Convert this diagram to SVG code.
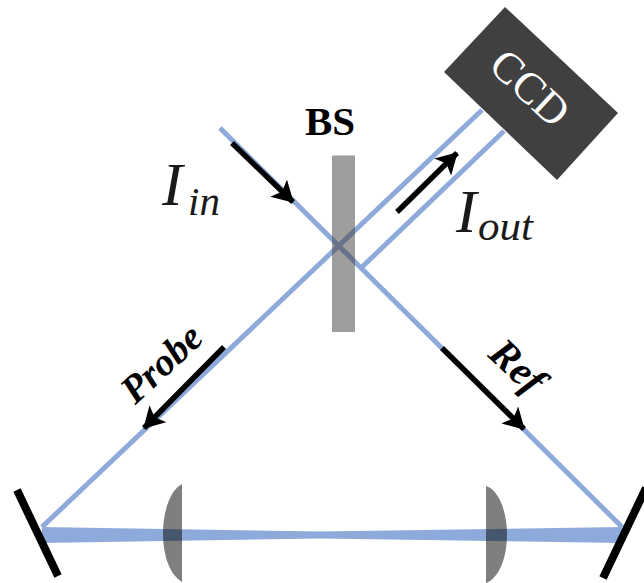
<svg xmlns="http://www.w3.org/2000/svg" width="644" height="583" viewBox="0 0 644 583">
<style>
.beam{stroke:#8eaadb;stroke-width:5;fill:none}
.arrow{stroke:#000;stroke-width:5.500;fill:none;marker-end:url(#head)}
.mirror{stroke:#000;stroke-width:8;fill:none}
.lens{fill:#000;fill-opacity:.5}
.t{font-family:"Liberation Serif","Times New Roman",serif}
.i{font-style:italic;fill:#1a1a1a}
.b{font-weight:bold;fill:#000}
</style>
<defs>
<marker id="head" markerUnits="userSpaceOnUse" markerWidth="26" markerHeight="26" refX="20" refY="12" orient="auto">
<path d="M0 0L21 12L0 24L5 12Z" fill="#000"/>
</marker>
</defs>
<rect width="644" height="583" fill="#fff"/>
<g id="connectors">
<path class="beam" d="M220 128L622 527"/>
<path class="beam" d="M482 110L42 527"/>
<path class="beam" d="M504 131L361 268"/>
<path d="M42 527L320 531.500L622 527L622 543L320 538.500L42 543Z" fill="#8eaadb"/>
<path class="arrow" d="M232 143L293 202"/>
<path class="arrow" d="M224 347L144 428"/>
<path class="arrow" d="M442 348L524 429"/>
<path class="arrow" d="M397 212L457 153"/>
</g>
<g id="bs">
<rect x="332" y="155.500" width="23" height="176.500" fill="#3f3b3b" fill-opacity=".5"/>
<text class="t b" x="305" y="135" font-size="41">BS</text>
</g>
<g id="ccd">
<path d="M505 7L618 113L557 180L444 72Z" fill="#404040"/>
<text class="t" x="530" y="88" font-size="44" fill="#fff" text-anchor="middle" dominant-baseline="central" transform="rotate(43 530 88)">CCD</text>
</g>
<g id="mirror-left"><path class="mirror" d="M17 490L58 576"/></g>
<g id="mirror-right"><path class="mirror" d="M646 488L603 578"/></g>
<g id="lens-left"><path class="lens" d="M182 484C170 490 163 512 163 533C163 556 170 575 182 582Z"/></g>
<g id="lens-right"><path class="lens" d="M486 486C499 490 507 512 507 534C507 558 499 578 486 583Z"/></g>
<g id="label-in">
<text class="t i" x="162" y="205" font-size="62">I</text>
<text class="t i" x="188" y="215" font-size="41">in</text>
</g>
<g id="label-out">
<text class="t i" x="456" y="232" font-size="62">I</text>
<text class="t i" x="478" y="240" font-size="43">out</text>
</g>
<g id="label-probe">
<text class="t b" style="font-style:italic" x="161" y="363" font-size="39" text-anchor="middle" dominant-baseline="central" transform="rotate(-43 161 363)">Probe</text>
</g>
<g id="label-ref">
<text class="t b" style="font-style:italic" x="518" y="366" font-size="41" text-anchor="middle" dominant-baseline="central" transform="rotate(43 518 366)">Ref</text>
</g>
</svg>
